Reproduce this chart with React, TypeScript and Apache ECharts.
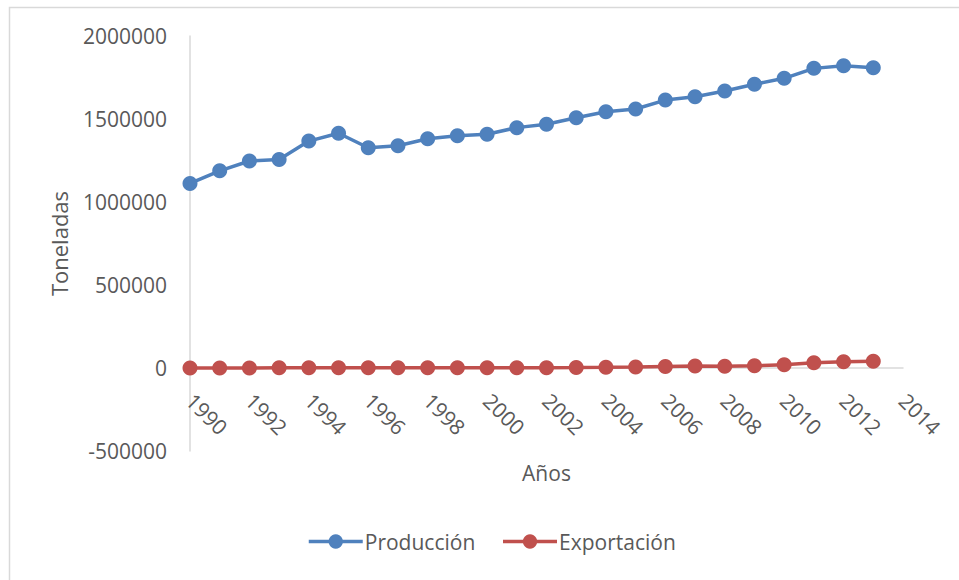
import React, { useEffect, useRef } from "react";
import * as echarts from "echarts";

const years = [1990, 1991, 1992, 1993, 1994, 1995, 1996, 1997, 1998, 1999, 2000, 2001, 2002, 2003, 2004, 2005, 2006, 2007, 2008, 2009, 2010, 2011, 2012, 2013];
const produccion = [1112000, 1188000, 1247000, 1256000, 1367000, 1414000, 1327000, 1339000, 1381000, 1399000, 1408000, 1448000, 1468000, 1508000, 1544000, 1560000, 1614000, 1634000, 1669000, 1709000, 1745000, 1805000, 1821000, 1809000];
const exportacion = [500, 600, 700, 800, 900, 1000, 1100, 1200, 1400, 1500, 1700, 1900, 2100, 2500, 4000, 6000, 9000, 12000, 11000, 13000, 20000, 31000, 38000, 40000];
const seriesNames = ["Producción", "Exportación"];
const colors = ["#4F81BD", "#C0504D"];

const FONT = "'Open Sans', 'Noto Sans', sans-serif";
const TEXT = "#595959";

export default function App() {
  const ref = useRef<HTMLDivElement>(null);
  useEffect(() => {
    if (!ref.current) return;
    const chart = echarts.init(ref.current, undefined, { renderer: "svg" });
    const mk = (vals: number[]) => years.map((y, i) => [y, vals[i]]);
    chart.setOption({
      animation: false,
      backgroundColor: "#ffffff",
      textStyle: { fontFamily: FONT },
      graphic: [
        {
          type: "rect",
          shape: { x: 9.5, y: 7.5, width: 1200, height: 1200 },
          style: { fill: "none", stroke: "#d9d9d9", lineWidth: 1.5 },
          silent: true,
        },
      ],
      grid: { left: 190, right: 56, top: 36, bottom: 129, containLabel: false },
      legend: {
        top: 526,
        left: 302,
        itemWidth: 54,
        itemHeight: 18,
        itemGap: 26,
        data: seriesNames,
        lineStyle: { width: 3.5 },
        textStyle: { fontFamily: FONT, fontSize: 21, color: TEXT, padding: [0, 0, 0, -3] },
      },
      xAxis: {
        type: "value",
        min: 1990,
        max: 2014,
        interval: 2,
        offset: -83,
        name: "Años",
        nameLocation: "middle",
        nameGap: 94,
        nameTextStyle: { fontFamily: FONT, fontSize: 21, color: TEXT },
        axisLine: { show: true, onZero: false, lineStyle: { color: "#d9d9d9", width: 1.5 } },
        axisTick: { show: false },
        splitLine: { show: false },
        axisLabel: {
          rotate: -45,
          margin: 29,
          fontFamily: FONT,
          fontSize: 21,
          color: TEXT,
          formatter: (v: number) => String(v),
        },
      },
      yAxis: {
        type: "value",
        min: -500000,
        max: 2000000,
        interval: 500000,
        name: "Toneladas",
        nameLocation: "middle",
        nameGap: 120,
        nameRotate: 90,
        nameTextStyle: { fontFamily: FONT, fontSize: 22, color: TEXT },
        axisLine: { show: true, lineStyle: { color: "#d9d9d9", width: 1.5 } },
        axisTick: { show: false },
        splitLine: { show: false },
        axisLabel: { margin: 23, fontFamily: FONT, fontSize: 21, color: TEXT, formatter: (v: number) => String(v) },
      },
      series: [
        {
          name: seriesNames[0],
          type: "line",
          data: mk(produccion),
          symbol: "circle",
          symbolSize: 15,
          lineStyle: { width: 3.5, color: colors[0] },
          itemStyle: { color: colors[0] },
        },
        {
          name: seriesNames[1],
          type: "line",
          data: mk(exportacion),
          symbol: "circle",
          symbolSize: 15,
          lineStyle: { width: 3.5, color: colors[1] },
          itemStyle: { color: colors[1] },
        },
      ],
    });
    return () => chart.dispose();
  }, []);
  return <div ref={ref} style={{ position: "absolute", left: 0, top: 0, width: 959, height: 580 }} />;
}
